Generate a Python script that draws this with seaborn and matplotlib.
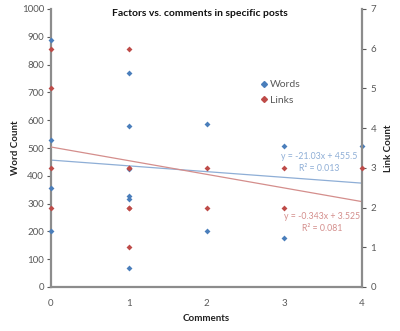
import matplotlib
matplotlib.use("Agg")
import matplotlib.pyplot as plt
import seaborn as sns
import pandas as pd
from matplotlib.lines import Line2D

sns.set_theme(style="white")
plt.rcParams['font.family'] = ['Lato', 'DejaVu Sans']

# Data
word_comments = [0, 0, 0, 0, 1, 1, 1, 1, 1, 1, 2, 2, 3, 3, 4]
word_counts = [888, 530, 355, 200, 768, 578, 425, 328, 315, 70, 585, 200, 508, 175, 508]
link_comments = [0, 0, 0, 0, 1, 1, 1, 1, 1, 1, 2, 2, 3, 3, 4]
link_counts = [6, 5, 3, 2, 6, 3, 3, 2, 2, 1, 3, 2, 3, 2, 3]
x_ticks = [0, 1, 2, 3, 4]
left_ticks = list(range(0, 1001, 100))
right_ticks = list(range(0, 8))
words_eq = ["y = -21.03x + 455.5", "R\u00b2 = 0.013"]
links_eq = ["y = -0.343x + 3.525", "R\u00b2 = 0.081"]

blue = "#4A7EBB"
red = "#BE4B48"
blue_line = "#8EAED6"
red_line = "#D48E8C"
axis_gray = "#8C8C8C"
text_gray = "#595959"

wdf = pd.DataFrame({"Comments": word_comments, "Words": word_counts})
ldf = pd.DataFrame({"Comments": link_comments, "Links": link_counts})

fig = plt.figure(figsize=(4.0, 3.31), dpi=100)
ax = fig.add_axes([51/400, 1-287/331, (362-51)/400, (287-9)/331])
ax2 = ax.twinx()

sns.regplot(data=wdf, x="Comments", y="Words", ax=ax, scatter=False, ci=None,
            line_kws=dict(color=blue_line, lw=0.9), truncate=True)
sns.scatterplot(data=wdf, x="Comments", y="Words", ax=ax, marker="D", s=9,
                color=blue, edgecolor=blue, linewidth=0, zorder=5, clip_on=False)
sns.regplot(data=ldf, x="Comments", y="Links", ax=ax2, scatter=False, ci=None,
            line_kws=dict(color=red_line, lw=0.9), truncate=True)
sns.scatterplot(data=ldf, x="Comments", y="Links", ax=ax2, marker="D", s=9,
                color=red, edgecolor=red, linewidth=0, zorder=5, clip_on=False)

ax.set_xlim(0, 4)
ax.set_ylim(0, 1000)
ax2.set_ylim(0, 7)
ax.set_xticks(x_ticks)
ax.set_yticks(left_ticks)
ax2.set_yticks(right_ticks)

for a in (ax, ax2):
    for s in a.spines.values():
        s.set_visible(False)
ax.spines['left'].set_visible(True)
ax.spines['bottom'].set_visible(True)
ax2.spines['right'].set_visible(True)
for s in (ax.spines['left'], ax.spines['bottom'], ax2.spines['right']):
    s.set_color(axis_gray)
    s.set_linewidth(1.6)

ax.tick_params(axis='both', labelsize=7, colors=text_gray, length=3, width=0.8,
               direction='out', pad=2)
ax.tick_params(axis='x', pad=6)
ax2.tick_params(axis='y', labelsize=7, colors=text_gray, length=3, width=0.8,
                direction='out', pad=3)
for a in (ax, ax2):
    for t in a.get_xticklines() + a.get_yticklines():
        t.set_color(axis_gray)

ax.set_xlabel("Comments", fontsize=7, fontweight='bold', color='#222222', labelpad=4)
ax.set_ylabel("Word Count", fontsize=7, fontweight='bold', color='#222222', labelpad=1)
ax2.set_ylabel("Link Count", fontsize=7, fontweight='bold', color='#222222', labelpad=6)

fig.text(0.5, 1-13/331, "Factors vs. comments in specific posts", ha='center', va='center',
         fontsize=7.5, fontweight='bold', color='#111111')

handles = [Line2D([], [], marker='D', ls='', color=blue, markersize=3, label='Words'),
           Line2D([], [], marker='D', ls='', color=red, markersize=3, label='Links')]
leg = ax.legend(handles=handles, loc='upper left', bbox_to_anchor=(0.655, 0.76),
                frameon=False, fontsize=7.5, handletextpad=0.1, labelspacing=0.6,
                handlelength=1.0, borderaxespad=0)
for t in leg.get_texts():
    t.set_color(text_gray)

ax.text(3.45, 468, words_eq[0], ha='center', va='center', fontsize=6.3, color=blue_line)
ax.text(3.45, 428, words_eq[1], ha='center', va='center', fontsize=6.3, color=blue_line)
ax.text(3.49, 252, links_eq[0], ha='center', va='center', fontsize=6.3, color=red_line)
ax.text(3.49, 212, links_eq[1], ha='center', va='center', fontsize=6.3, color=red_line)

fig.savefig("out.png", dpi=100)
